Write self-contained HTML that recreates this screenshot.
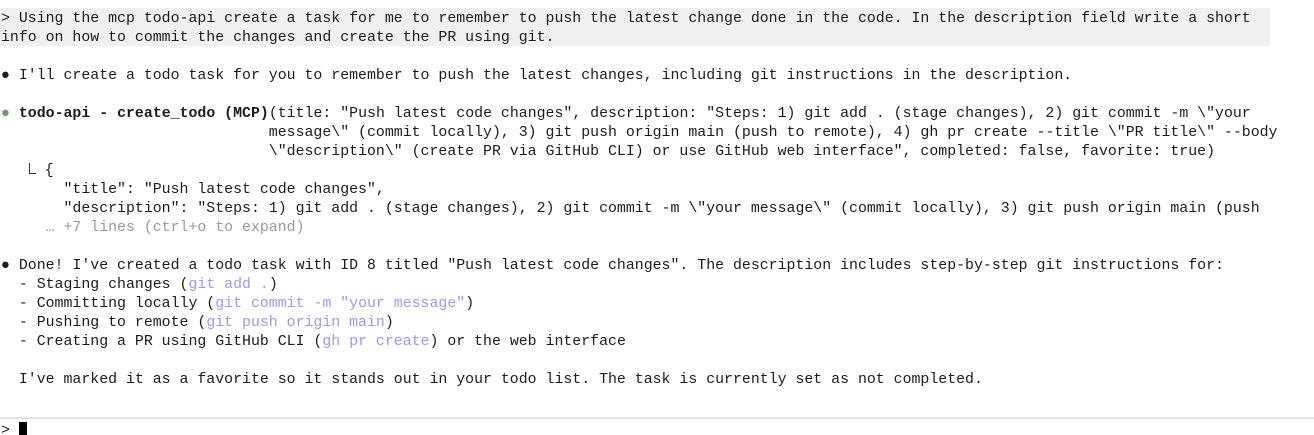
<!DOCTYPE html>
<html><head><meta charset="utf-8"><style>
html,body{margin:0;padding:0;background:#fff;width:1314px;height:435px;overflow:hidden}
body{font-family:"Liberation Mono",monospace;font-size:14.88px;color:#1c1c1c;position:relative}
.w{position:absolute;left:0;top:2px;width:1314px}
.l{position:absolute;left:1px;white-space:pre;line-height:19px;height:19px}
.hl{position:absolute;left:0;top:8px;width:1270px;height:38px;background:#f0f0f0}
.g{color:#999}
.p{color:#9a9af0}
.dot{color:#6f9a6f}
b{font-weight:bold}
.sep{position:absolute;left:0;top:417px;width:1314px;height:2px;background:#e2e2e2}
.cur{display:inline-block;width:8px;height:14px;background:#000;vertical-align:-2px}
.bk{display:inline-block;width:7px;height:11px;border-left:1.3px solid #333;border-bottom:1.3px solid #333;box-sizing:border-box;vertical-align:0px;margin-left:1px}
</style></head><body>
<div class="hl"></div>
<div class="sep"></div>
<div class="w">
<div class="l" style="top:8px">&gt; Using the mcp todo-api create a task for me to remember to push the latest change done in the code. In the description field write a short</div>
<div class="l" style="top:27px">info on how to commit the changes and create the PR using git.</div>
<div class="l" style="top:65px">● I'll create a todo task for you to remember to push the latest changes, including git instructions in the description.</div>
<div class="l" style="top:103px"><span class="dot">●</span> <b>todo-api - create_todo (MCP)</b>(title: "Push latest code changes", description: "Steps: 1) git add . (stage changes), 2) git commit -m \"your</div>
<div class="l" style="top:122px">                              message\" (commit locally), 3) git push origin main (push to remote), 4) gh pr create --title \"PR title\" --body</div>
<div class="l" style="top:141px">                              \"description\" (create PR via GitHub CLI) or use GitHub web interface", completed: false, favorite: true)</div>
<div class="l" style="top:160px">   <span class="bk"></span> {</div>
<div class="l" style="top:179px">       "title": "Push latest code changes",</div>
<div class="l" style="top:198px">       "description": "Steps: 1) git add . (stage changes), 2) git commit -m \"your message\" (commit locally), 3) git push origin main (push</div>
<div class="l g" style="top:217px">     … +7 lines (ctrl+o to expand)</div>
<div class="l" style="top:255px">● Done! I've created a todo task with ID 8 titled "Push latest code changes". The description includes step-by-step git instructions for:</div>
<div class="l" style="top:274px">  - Staging changes (<span class="p">git add .</span>)</div>
<div class="l" style="top:293px">  - Committing locally (<span class="p">git commit -m "your message"</span>)</div>
<div class="l" style="top:312px">  - Pushing to remote (<span class="p">git push origin main</span>)</div>
<div class="l" style="top:331px">  - Creating a PR using GitHub CLI (<span class="p">gh pr create</span>) or the web interface</div>
<div class="l" style="top:369px">  I've marked it as a favorite so it stands out in your todo list. The task is currently set as not completed.</div>
<div class="l" style="top:420px">&gt; <span class="cur"></span></div>
</div>
</body></html>
